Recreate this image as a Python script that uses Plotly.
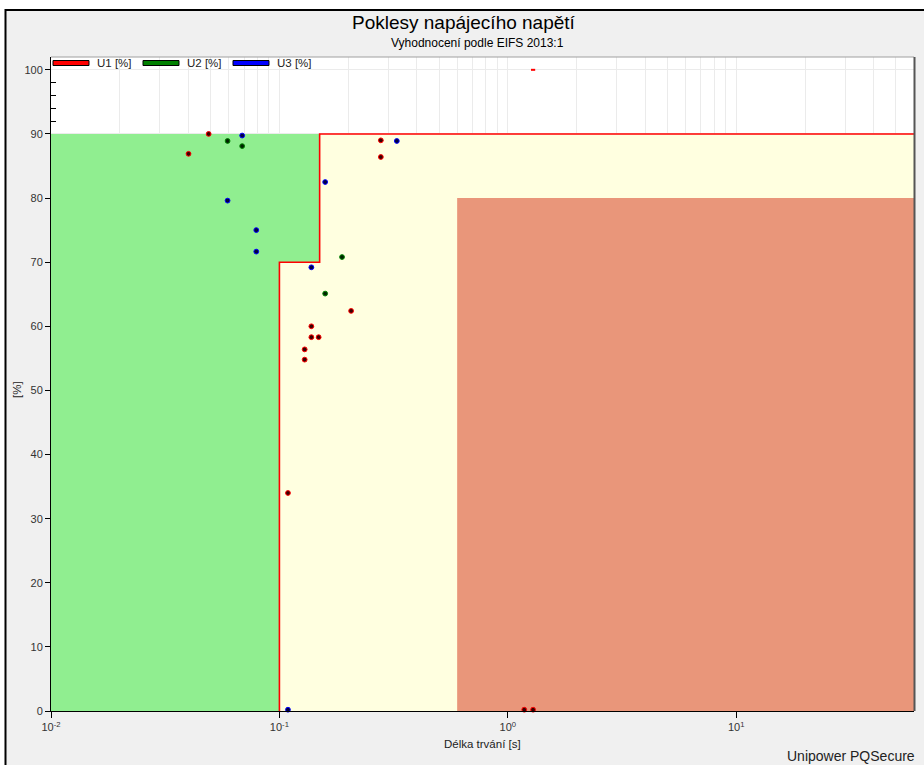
import plotly.graph_objects as go

# ---- measured dips: duration [s] and residual voltage [%] ----
u1_duration = [0.040, 0.049, 0.278, 0.278, 0.206, 0.138, 0.138, 0.1485, 0.129, 0.129, 0.109, 1.18, 1.29]
u1_voltage = [86.9, 90.0, 89.0, 86.4, 62.4, 60.0, 58.3, 58.3, 56.4, 54.8, 34.0, 0.2, 0.2]

u2_duration = [0.0593, 0.0687, 0.188, 0.1586]
u2_voltage = [88.9, 88.1, 70.8, 65.1]

u3_duration = [0.0687, 0.0593, 0.0792, 0.0792, 0.3266, 0.1586, 0.138, 0.109]
u3_voltage = [89.75, 79.6, 75.0, 71.65, 88.9, 82.5, 69.2, 0.2]

u1_top_duration = [1.29]
u1_top_voltage = [100.0]

series_names = ["U1 [%]", "U2 [%]", "U3 [%]"]
series_colors = ["#ff0000", "#008000", "#0000ff"]
series_cores = ["#3a0000", "#002400", "#000040"]

# ---- EIFS 2013:1 evaluation zones ----
t_min, t_green, t_step, t_red, t_max = 0.01, 0.1, 0.15, 0.6, 60
u_step, u_red, u_top = 70, 80, 90

x_tickvals = [0.01, 0.1, 1, 10]
x_ticktext = ["10<sup>-2</sup>", "10<sup>-1</sup>", "10<sup>0</sup>", "10<sup>1</sup>"]
x_minor = [m * d for d in (0.01, 0.1, 1, 10) for m in range(2, 10) if m * d < t_max]
y_tickvals = list(range(0, 101, 10))
y_minor = [92, 94, 96, 98]

W_PX, H_PX = 924, 765
PL, PR, PT, PB = 51, 914, 57, 711


def fx(px):
    return (px - PL) / (PR - PL)


def fy(py):
    return (PB - py) / (PB - PT)


FONT = "Liberation Sans, Arial, sans-serif"

fig = go.Figure()

# green zone
fig.add_trace(go.Scatter(
    x=[t_min, t_green, t_green, t_step, t_step, t_min],
    y=[0, 0, u_step, u_step, u_top, u_top],
    fill="toself", fillcolor="#90ee90", mode="lines", line=dict(width=0),
    hoverinfo="skip", showlegend=False))
# yellow zone
fig.add_trace(go.Scatter(
    x=[t_green, t_max, t_max, t_step, t_step, t_green],
    y=[0, 0, u_top, u_top, u_step, u_step],
    fill="toself", fillcolor="#ffffe0", mode="lines", line=dict(width=0),
    hoverinfo="skip", showlegend=False))
# red zone
fig.add_trace(go.Scatter(
    x=[t_red, t_max, t_max, t_red],
    y=[0, 0, u_red, u_red],
    fill="toself", fillcolor="#e9967a", mode="lines", line=dict(width=0),
    hoverinfo="skip", showlegend=False))
# limit curve
fig.add_trace(go.Scatter(
    x=[t_green, t_green, t_step, t_step, t_max],
    y=[0, u_step, u_step, u_top, u_top],
    mode="lines", line=dict(color="#ff0000", width=1.6),
    hoverinfo="skip", showlegend=False))

for name, xs, ys, col, core in zip(
        series_names,
        [u1_duration, u2_duration, u3_duration],
        [u1_voltage, u2_voltage, u3_voltage],
        series_colors, series_cores):
    fig.add_trace(go.Scatter(
        x=xs, y=ys, mode="markers", name=name,
        marker=dict(size=4.8, color=core, line=dict(color=col, width=1)),
        cliponaxis=False, showlegend=False))

fig.add_trace(go.Scatter(
    x=u1_top_duration, y=u1_top_voltage, mode="markers",
    marker=dict(symbol="line-ew", size=3, line=dict(color="#ff0000", width=2)),
    hoverinfo="skip", showlegend=False))

shapes = [
    # white surround outside the panel frame
    dict(type="rect", xref="paper", yref="paper", x0=fx(0), x1=fx(W_PX + 5),
         y0=fy(9), y1=fy(-5), fillcolor="white", line=dict(width=0), layer="below"),
    dict(type="rect", xref="paper", yref="paper", x0=fx(-5), x1=fx(5),
         y0=fy(H_PX + 5), y1=fy(-5), fillcolor="white", line=dict(width=0), layer="below"),
    # panel frame
    dict(type="rect", xref="paper", yref="paper", x0=fx(5.5), x1=fx(W_PX + 20),
         y0=fy(H_PX + 20), y1=fy(10), line=dict(color="black", width=2)),
    # plot-area border (top and right)
    dict(type="line", xref="paper", yref="paper", x0=0, x1=1, y0=1, y1=1,
         line=dict(color="#a0a0a0", width=1)),
    dict(type="line", xref="paper", yref="paper", x0=fx(PR + 0.5), x1=fx(PR + 0.5), y0=0, y1=1,
         line=dict(color="#555555", width=2)),
]

annotations = [
    dict(text="Poklesy napájecího napětí", xref="paper", yref="paper",
         x=fx(464), y=fy(22), xanchor="center", yanchor="middle", showarrow=False,
         font=dict(family=FONT, size=19, color="black")),
    dict(text="Vyhodnocení podle EIFS 2013:1", xref="paper", yref="paper",
         x=fx(477), y=fy(43), xanchor="center", yanchor="middle", showarrow=False,
         font=dict(family=FONT, size=12, color="black")),
    dict(text="Délka trvání [s]", xref="paper", yref="paper",
         x=fx(482), y=fy(744), xanchor="center", yanchor="middle", showarrow=False,
         font=dict(family=FONT, size=11.5, color="#222222")),
    dict(text="[%]", xref="paper", yref="paper", textangle=-90,
         x=fx(17), y=fy(390), xanchor="center", yanchor="middle", showarrow=False,
         font=dict(family=FONT, size=11.5, color="#222222")),
    dict(text="Unipower PQSecure", xref="paper", yref="paper",
         x=fx(917), y=fy(756), xanchor="right", yanchor="middle", showarrow=False,
         font=dict(family=FONT, size=14, color="#222222")),
]

# legend strip
legend_swatch_left = [53, 143, 233]
for name, col, sx in zip(series_names, series_colors, legend_swatch_left):
    shapes.append(dict(type="rect", xref="paper", yref="paper",
                       x0=fx(sx), x1=fx(sx + 36), y0=fy(65.5), y1=fy(60.5),
                       fillcolor=col, line=dict(color="black", width=1)))
    annotations.append(dict(text=name, xref="paper", yref="paper",
                            x=fx(sx + 42), y=fy(63), xanchor="left", yanchor="middle",
                            showarrow=False,
                            font=dict(family=FONT, size=11.5, color="#222222")))

fig.update_layout(
    width=W_PX, height=H_PX,
    margin=dict(l=PL, r=W_PX - PR, t=PT, b=H_PX - PB, pad=0),
    paper_bgcolor="#f0f0f0", plot_bgcolor="white",
    font=dict(family=FONT, size=11, color="#333333"),
    showlegend=False,
    shapes=shapes, annotations=annotations,
    xaxis=dict(
        type="log", range=[-2, 1.7782], tickvals=x_tickvals, ticktext=x_ticktext,
        ticks="outside", ticklen=6, tickcolor="black", tickwidth=1,
        showline=True, linecolor="black", linewidth=1,
        showgrid=True, gridcolor="#ebebeb", gridwidth=1, zeroline=False,
        tickfont=dict(family=FONT, size=11, color="#333333"),
        minor=dict(tickvals=x_minor, showgrid=True, gridcolor="#ebebeb", gridwidth=1, ticks=""),
    ),
    yaxis=dict(
        range=[0, 102.0], tickvals=y_tickvals,
        ticks="outside", ticklen=5, tickcolor="black", tickwidth=1,
        showline=True, linecolor="black", linewidth=1,
        showgrid=True, gridcolor="#ebebeb", gridwidth=1, zeroline=False,
        tickfont=dict(family=FONT, size=11, color="#333333"),
        minor=dict(tickvals=y_minor, ticks="inside", ticklen=5, tickcolor="black", showgrid=False),
    ),
)

fig.write_html("out.html")
